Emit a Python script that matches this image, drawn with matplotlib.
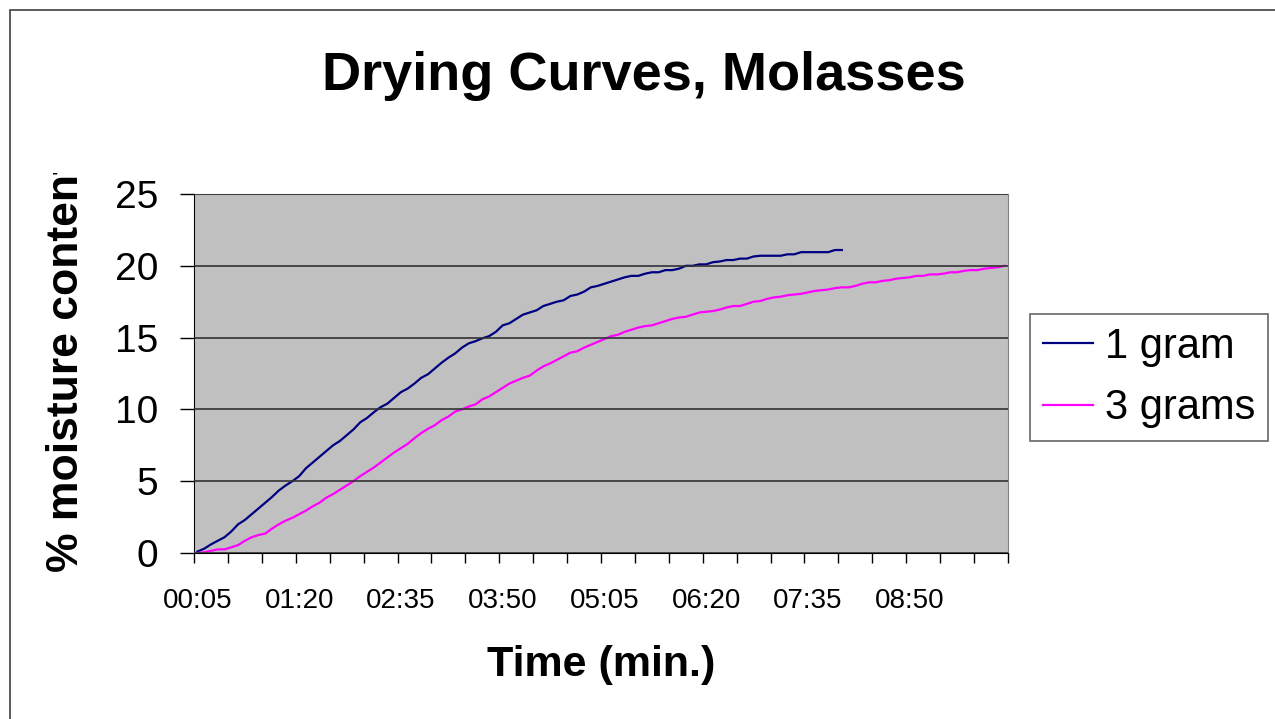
import matplotlib
matplotlib.use("Agg")
import matplotlib.pyplot as plt
from matplotlib.patches import Rectangle

plt.rcParams['font.family'] = ['Liberation Sans', 'DejaVu Sans']

# readings are every 5 s, starting at 00:05
times = ["%02d:%02d" % divmod(5 * (i + 1), 60) for i in range(120)]

one_gram = [
    0.1, 0.3, 0.6, 0.85, 1.1, 1.5, 2.0, 2.3, 2.7, 3.1,
    3.5, 3.9, 4.35, 4.7, 5.0, 5.35, 5.9, 6.3, 6.7, 7.1,
    7.5, 7.8, 8.2, 8.6, 9.1, 9.4, 9.8, 10.15, 10.4, 10.8,
    11.2, 11.45, 11.8, 12.2, 12.45, 12.85, 13.25, 13.6, 13.9, 14.3,
    14.6, 14.75, 14.95, 15.1, 15.4, 15.85, 16.0, 16.3, 16.6, 16.75,
    16.9, 17.2, 17.35, 17.5, 17.6, 17.9, 18.0, 18.2, 18.5, 18.6,
    18.75, 18.9, 19.05, 19.2, 19.3, 19.3, 19.45, 19.55, 19.55, 19.7,
    19.7, 19.8, 20.0, 20.0, 20.1, 20.1, 20.25, 20.3, 20.4, 20.4,
    20.5, 20.5, 20.65, 20.7, 20.7, 20.7, 20.7, 20.8, 20.8, 20.95,
    20.95, 20.95, 20.95, 20.95, 21.1, 21.1,
]

three_grams = [
    0.0, 0.05, 0.15, 0.25, 0.25, 0.4, 0.55, 0.85, 1.1, 1.25,
    1.35, 1.7, 2.0, 2.25, 2.45, 2.7, 2.95, 3.25, 3.5, 3.85,
    4.1, 4.4, 4.7, 5.0, 5.35, 5.65, 5.95, 6.3, 6.65, 7.0,
    7.3, 7.6, 8.0, 8.35, 8.65, 8.9, 9.25, 9.5, 9.85, 10.0,
    10.2, 10.35, 10.7, 10.9, 11.2, 11.5, 11.8, 12.0, 12.2, 12.35,
    12.7, 13.0, 13.2, 13.45, 13.7, 13.95, 14.05, 14.3, 14.5, 14.7,
    14.9, 15.1, 15.2, 15.4, 15.55, 15.7, 15.8, 15.85, 16.0, 16.15,
    16.3, 16.4, 16.45, 16.6, 16.75, 16.8, 16.85, 16.95, 17.1, 17.2,
    17.2, 17.35, 17.5, 17.55, 17.7, 17.8, 17.85, 17.95, 18.0, 18.05,
    18.15, 18.25, 18.3, 18.35, 18.45, 18.5, 18.5, 18.6, 18.75, 18.85,
    18.85, 18.95, 19.0, 19.1, 19.15, 19.2, 19.3, 19.3, 19.4, 19.4,
    19.45, 19.55, 19.55, 19.65, 19.7, 19.7, 19.8, 19.85, 19.9, 20.0,
]

y_ticks = [0, 5, 10, 15, 20, 25]

fig = plt.figure(figsize=(12.75, 7.19), dpi=100)
fig.patches.append(Rectangle((10 / 1275, -0.05), 1.1, 1 - 10 / 719 + 0.05,
                             transform=fig.transFigure, fill=False,
                             edgecolor='#404040', lw=1.2))

ax = fig.add_axes([194 / 1275, 1 - 553 / 719, (1008 - 194) / 1275, (553 - 194) / 719])
ax.set_facecolor('#C0C0C0')

x = list(range(len(times)))
ax.plot(x[:len(one_gram)], one_gram, color='#000080', lw=1.6, label='1 gram')
ax.plot(x, three_grams, color='#FF00FF', lw=1.6, label='3 grams')

ax.set_xlim(-0.5, len(times) - 0.5)
ax.set_ylim(0, 25)
ax.set_yticks(y_ticks)
ax.set_yticklabels([str(v) for v in y_ticks])
ax.tick_params(axis='y', direction='out', length=10, width=1, pad=16, labelsize=28)
ax.yaxis.grid(True, color='#333333', lw=1.2)
ax.set_axisbelow(False)

# tick marks sit on category edges, labels every 15 readings
ax.set_xticks([i - 0.5 for i in range(0, len(times) + 1, 5)])
ax.set_xticklabels([])
ax.set_xticks(x[::15], minor=True)
ax.set_xticklabels(times[::15], minor=True)
ax.tick_params(axis='x', which='major', direction='out', length=7.5, width=1)
ax.tick_params(axis='x', which='minor', length=0, pad=25, labelsize=20)

for side in ['top', 'right']:
    ax.spines[side].set_color('#808080')
for side in ['left', 'bottom']:
    ax.spines[side].set_color('black')

fig.text(644 / 1275, 1 - 76 / 719, 'Drying Curves, Molasses', fontsize=39,
         fontweight='bold', ha='center', va='center')
fig.text(601 / 1275, 1 - 665 / 719, 'Time (min.)', fontsize=31,
         fontweight='bold', ha='center', va='center')

# y title is cut off at the top, as in the original
clip_ax = fig.add_axes([0, 0, 0.14, 1 - 173 / 719])
clip_ax.axis('off')
clip_ax.text(67 / 1275, 1 - 572 / 719, '% moisture content', fontsize=32,
             fontweight='bold', rotation=90, ha='center', va='bottom',
             transform=fig.transFigure, clip_on=True)

leg = ax.legend(loc='upper left', bbox_to_anchor=(1030 / 1275, 1 - 314 / 719),
                bbox_transform=fig.transFigure, fontsize=30, frameon=True,
                fancybox=False, edgecolor='#404040', handlelength=1.2,
                handletextpad=0.3, borderpad=0.3, labelspacing=0.52,
                borderaxespad=0)
leg.get_frame().set_linewidth(1.2)

fig.savefig('out.png', dpi=100)
